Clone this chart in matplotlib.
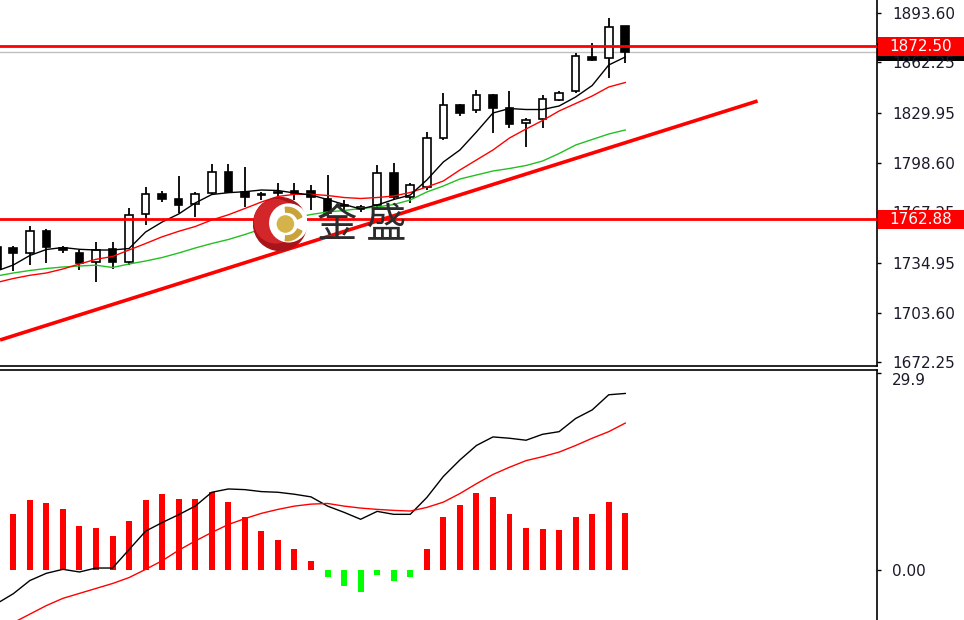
import numpy as np
import matplotlib
matplotlib.use("Agg")
from matplotlib import pyplot as plt
from matplotlib.patches import Rectangle, Circle, Wedge

# Candles, oldest first
opens = [1745.0, 1744.7, 1741.2, 1755.5, 1744.8, 1741.2, 1735.8, 1743.6, 1735.8, 1765.9,
         1778.6, 1775.6, 1772.2, 1779.2, 1792.6, 1780.3, 1778.5, 1779.4, 1779.8, 1780.5,
         1775.4, 1771.5, 1769.5, 1771.8, 1791.9, 1777.1, 1783.4, 1814.1, 1835.2, 1832.1,
         1841.6, 1833.2, 1823.6, 1826.2, 1838.5, 1844.3, 1865.5, 1864.9, 1885.4]
highs = [1747.0, 1745.5, 1758.5, 1756.4, 1745.8, 1743.5, 1748.5, 1748.5, 1769.7, 1783.4,
         1780.7, 1790.2, 1779.8, 1797.8, 1797.8, 1796.1, 1780.3, 1785.6, 1785.6, 1784.5,
         1790.8, 1774.9, 1771.8, 1797.5, 1798.3, 1785.6, 1818.3, 1843.0, 1836.0, 1844.8,
         1842.0, 1844.3, 1827.0, 1841.6, 1844.3, 1868.0, 1874.8, 1890.2, 1885.4]
lows = [1729.0, 1730.0, 1733.8, 1734.8, 1741.3, 1730.5, 1723.2, 1731.0, 1733.8, 1759.1,
        1773.9, 1766.6, 1764.4, 1778.2, 1779.2, 1770.7, 1775.0, 1771.8, 1774.9, 1768.5,
        1764.4, 1768.5, 1767.5, 1768.5, 1775.0, 1772.9, 1781.3, 1813.0, 1828.3, 1830.4,
        1817.7, 1820.5, 1808.6, 1820.5, 1838.0, 1843.0, 1863.2, 1852.2, 1862.1]
closes = [1731.0, 1741.2, 1755.5, 1745.4, 1743.0, 1735.0, 1743.0, 1735.8, 1765.5, 1778.6,
          1775.6, 1771.8, 1778.8, 1792.6, 1780.3, 1777.1, 1778.0, 1779.2, 1779.5, 1777.0,
          1766.9, 1771.0, 1769.8, 1791.9, 1777.1, 1784.5, 1814.1, 1835.2, 1830.4, 1841.6,
          1833.2, 1823.4, 1825.7, 1838.9, 1842.7, 1866.3, 1863.8, 1884.9, 1869.1]

# Moving averages on the price panel
ma_black = [1729.95, 1733.76, 1739.78, 1743.59, 1744.86, 1743.71, 1743.27, 1743.27, 1744.22, 1754.69,
            1761.03, 1766.11, 1773.08, 1778.47, 1779.62, 1780.25, 1781.33, 1781.01, 1779.43, 1778.16,
            1775.30, 1772.13, 1769.28, 1771.81, 1775.30, 1778.16, 1787.67, 1799.09, 1806.70, 1818.12,
            1830.17, 1833.02, 1832.39, 1832.39, 1834.61, 1840.32, 1847.61, 1860.62, 1865.69]
ma_red = [1722.66, 1725.19, 1727.22, 1728.68, 1731.22, 1734.39, 1737.37, 1739.15, 1743.27, 1747.39,
          1751.64, 1755.13, 1758.18, 1762.30, 1765.60, 1769.60, 1773.72, 1777.21, 1778.60, 1778.60,
          1777.84, 1776.57, 1775.94, 1776.57, 1777.52, 1779.74, 1783.23, 1787.04, 1794.01, 1800.36,
          1806.70, 1814.31, 1820.02, 1825.41, 1831.44, 1836.20, 1840.95, 1846.66, 1849.52]
ma_green = [1726.78, 1728.68, 1730.27, 1731.54, 1732.49, 1733.12, 1733.63, 1732.17, 1734.39, 1736.29,
            1738.51, 1741.37, 1744.54, 1747.39, 1749.93, 1753.10, 1756.59, 1760.08, 1763.57, 1765.79,
            1767.38, 1768.33, 1769.59, 1770.55, 1772.13, 1774.99, 1780.06, 1783.87, 1788.31, 1790.84,
            1793.38, 1794.97, 1796.87, 1799.72, 1804.48, 1809.87, 1813.36, 1816.85, 1819.39]

# MACD panel
macd_hist = [7.5, 8.55, 10.6, 10.1, 9.2, 6.7, 6.4, 5.1, 7.5, 10.6,
             11.5, 10.8, 10.8, 11.9, 10.3, 8.0, 5.9, 4.6, 3.2, 1.3,
             -1.1, -2.5, -3.4, -0.8, -1.6, -1.1, 3.2, 8.0, 9.9, 11.7,
             11.1, 8.55, 6.4, 6.2, 6.0, 8.0, 8.55, 10.3, 8.7]
macd_line = [-5.1, -3.6, -1.6, -0.5, 0.1, -0.3, 0.3, 0.3, 3.1, 5.9,
             7.2, 8.4, 9.7, 11.8, 12.3, 12.2, 11.9, 11.8, 11.5, 11.1,
             9.7, 8.75, 7.7, 8.9, 8.45, 8.45, 11.0, 14.2, 16.7, 18.9,
             20.2, 20.0, 19.7, 20.6, 21.0, 23.0, 24.3, 26.6, 26.8]
macd_signal = [-9.5, -8.0, -6.7, -5.4, -4.3, -3.55, -2.8, -2.05, -1.15, 0.1,
               1.4, 3.0, 4.4, 5.7, 6.9, 7.8, 8.6, 9.2, 9.7, 10.0,
               10.1, 9.7, 9.4, 9.2, 9.05, 8.95, 9.5, 10.3, 11.6, 13.1,
               14.5, 15.6, 16.6, 17.2, 17.9, 18.9, 20.0, 21.0, 22.3]

price_ticks = [1893.60, 1862.25, 1829.95, 1798.60, 1767.25, 1734.95, 1703.60, 1672.25]
macd_ticks = [29.9, 0.0]
macd_tick_labels = ["29.9", "0.00"]
levels = [1872.50, 1762.88]
trend_x = [0.2, 46.0]
trend_y = [1686.2, 1837.8]

RED = "#ff0000"
W, H = 964, 620
AX_R = 877

fig = plt.figure(figsize=(W / 100, H / 100), dpi=100)
ax1 = fig.add_axes([0, 254 / H, AX_R / W, 366 / H])
ax2 = fig.add_axes([0, 0, AX_R / W, 250 / H], sharex=ax1)

x = np.arange(len(closes))

# Candles
for i in x:
    o, h, l, c = opens[i], highs[i], lows[i], closes[i]
    ax1.plot([i, i], [l, h], color="black", lw=1.3, zorder=2, solid_capstyle="butt")
    bottom = min(o, c)
    height = max(abs(c - o), 0.9)
    face = "white" if c >= o else "black"
    ax1.add_patch(Rectangle((i - 0.23, bottom), 0.46, height, facecolor=face,
                            edgecolor="black", lw=1.2, zorder=3))

ax1.plot(x, ma_green, color="#22c022", lw=1.0, zorder=4)
ax1.plot(x, ma_red, color=RED, lw=1.0, zorder=4)
ax1.plot(x, ma_black, color="black", lw=1.0, zorder=4)

for lv in levels:
    ax1.axhline(lv, color=RED, lw=2.0, zorder=5)
ax1.axhline(closes[-1], color="#c0c0c0", lw=1.0, zorder=1)
ax1.plot(trend_x, trend_y, color=RED, lw=2.6, zorder=5, solid_capstyle="butt")

ax1.set_xlim(0.196, 53.22)
ax1.set_ylim(1669.69, 1901.85)
ax1.set_xticks([])
ax1.yaxis.tick_right()
ax1.set_yticks(price_ticks)
ax1.set_yticklabels(["%.2f" % t for t in price_ticks])

# price tags on the right scale
ytr = ax1.get_yaxis_transform()
ax1.add_patch(Rectangle((1.0, closes[-1] - 5.7), 0.1, 11.4, transform=ytr,
                        facecolor="black", clip_on=False, zorder=0.5))
ax1.text(889 / AX_R, closes[-1], "%.2f" % closes[-1], transform=ytr, color="white",
         fontsize=11, va="center", ha="left", zorder=0.6, clip_on=False)
for lv in levels:
    ax1.add_patch(Rectangle((1.001, lv - 6.0), 0.1, 12.0, transform=ytr,
                            facecolor=RED, clip_on=False, zorder=6))
    ax1.text(889 / AX_R, lv, "%.2f" % lv, transform=ytr, color="white",
             fontsize=11, va="center", ha="left", zorder=7, clip_on=False)

# MACD
colors = [RED if v >= 0 else "#00ff00" for v in macd_hist]
ax2.bar(x, macd_hist, width=0.36, color=colors, zorder=2)
ax2.plot(x, macd_line, color="black", lw=1.0, zorder=3)
ax2.plot(x, macd_signal, color=RED, lw=1.0, zorder=3)
ax2.set_ylim(-7.59, 30.36)
ax2.yaxis.tick_right()
ax2.set_yticks(macd_ticks)
ax2.set_yticklabels(macd_tick_labels)
ax2.get_yticklabels()[0].set_va("top")

for ax in (ax1, ax2):
    ax.set_facecolor("white")
    ax.tick_params(axis="y", direction="out", length=3, width=1, pad=8,
                   labelsize=11, labelcolor="#1a1a2a")
    ax.tick_params(axis="x", length=0)
    for s in ax.spines.values():
        s.set_linewidth(1.2)
ax1.spines["top"].set_visible(False)
ax1.spines["left"].set_visible(False)
ax2.spines["bottom"].set_visible(False)
ax2.spines["left"].set_visible(False)

# watermark logo
lg = fig.add_axes([253 / W, 1 - 251 / H, 54 / W, 54 / H])
lg.set_xlim(-1, 1)
lg.set_ylim(-1, 1)
lg.axis("off")
lg.add_patch(Circle((0, 0), 0.98, color="#a8141a"))
lg.add_patch(Circle((-0.15, 0.1), 0.8, color="#d2262a"))
lg.add_patch(Circle((0.32, 0.04), 0.7, color="white"))
lg.add_patch(Wedge((0.25, 0.0), 0.62, 25, 95, width=0.18, color="#c9a23a"))
lg.add_patch(Wedge((0.25, 0.0), 0.62, -95, -25, width=0.18, color="#c9a23a"))
lg.add_patch(Circle((0.2, 0.0), 0.3, color="#d4b44a"))
fig.text(362 / W, 1 - 226 / H, "金 盛", fontsize=29, color="#2b2b2b",
         family=["Noto Sans CJK SC", "DejaVu Sans"], ha="center", va="center")

fig.savefig("out.png", dpi=100, facecolor="white")
